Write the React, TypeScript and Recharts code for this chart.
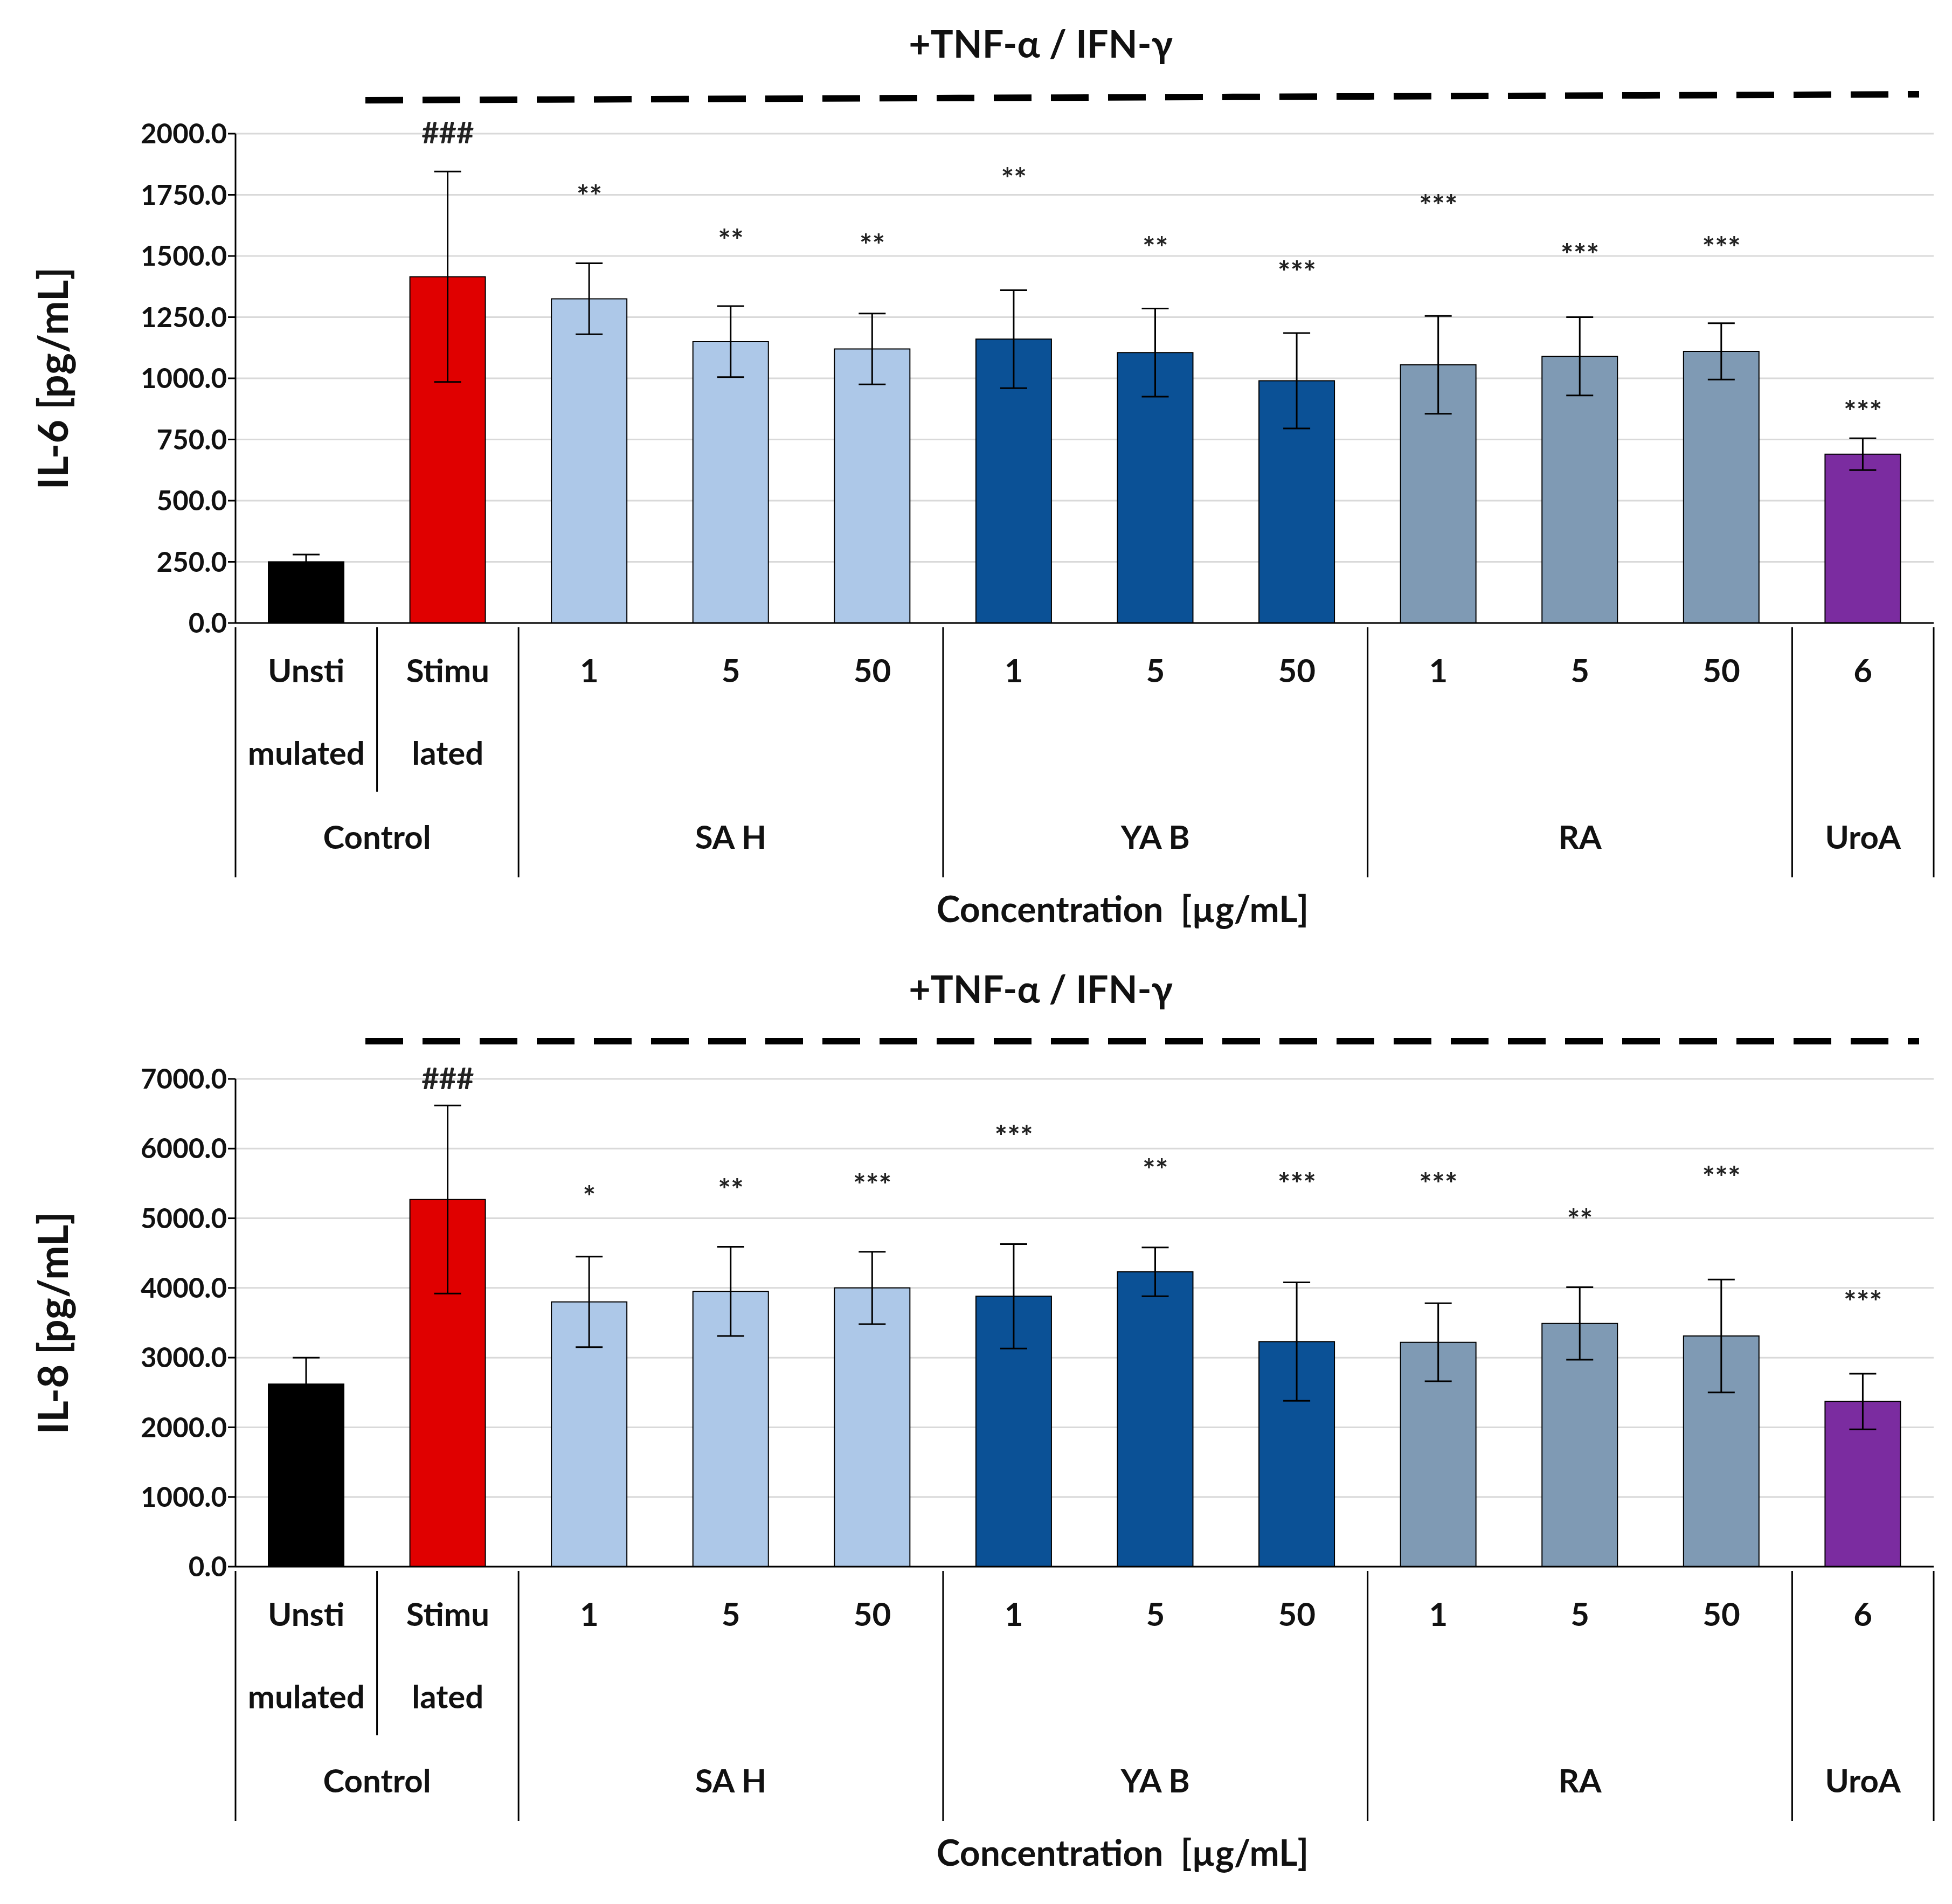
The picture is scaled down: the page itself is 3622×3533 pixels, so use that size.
import React from "react";
import {
  ComposedChart,
  Bar,
  Cell,
  ErrorBar,
  Scatter,
  XAxis,
  YAxis,
  CartesianGrid,
} from "recharts";

const concRow1 = ["Unsti", "Stimu", "1", "5", "50", "1", "5", "50", "1", "5", "50", "6"];
const concRow2 = ["mulated", "lated", "", "", "", "", "", "", "", "", "", ""];
const groups = [
  { name: "Control", start: 0, span: 2 },
  { name: "SA H", start: 2, span: 3 },
  { name: "YA B", start: 5, span: 3 },
  { name: "RA", start: 8, span: 3 },
  { name: "UroA", start: 11, span: 1 },
];
const colors = [
  "#000000", "#e00000",
  "#adc8e8", "#adc8e8", "#adc8e8",
  "#0b5196", "#0b5196", "#0b5196",
  "#7f9ab4", "#7f9ab4", "#7f9ab4",
  "#7b2ca0",
];

const il6 = [250, 1415, 1325, 1150, 1120, 1160, 1105, 990, 1055, 1090, 1110, 690];
const il6Err = [30, 430, 145, 145, 145, 200, 180, 195, 200, 160, 115, 65];
const il6Marks = ["", "###", "**", "**", "**", "**", "**", "***", "***", "***", "***", "***"];
const il6MarkPos = [0, 1960, 1700, 1520, 1500, 1770, 1490, 1390, 1660, 1460, 1490, 820];
const il6Ticks = [0, 250, 500, 750, 1000, 1250, 1500, 1750, 2000];

const il8 = [2620, 5270, 3800, 3950, 4000, 3880, 4230, 3230, 3220, 3490, 3310, 2370];
const il8Err = [380, 1350, 650, 640, 520, 750, 350, 850, 560, 520, 810, 400];
const il8Marks = ["", "###", "*", "**", "***", "***", "**", "***", "***", "**", "***", "***"];
const il8MarkPos = [0, 6850, 5150, 5250, 5320, 6020, 5540, 5340, 5340, 4820, 5430, 3640];
const il8Ticks = [0, 1000, 2000, 3000, 4000, 5000, 6000, 7000];

const FONT = "Lato, 'Open Sans', sans-serif";
const W = 3606;
const ML = 429;
const MR = 26;
const BAND = (W - ML - MR) / 12;

const CatTick = (props: any) => {
  const { x, y, payload } = props;
  const i = payload.index;
  const left = x - BAND / 2;
  const isGroupStart = groups.some((g) => g.start === i);
  const g = groups.find((gg) => gg.start === i);
  return (
    <g fontFamily={FONT} fontWeight={700} fontSize={60} fill="#111">
      <text x={x} y={y + 102} textAnchor="middle">{concRow1[i]}</text>
      {concRow2[i] && <text x={x} y={y + 255} textAnchor="middle">{concRow2[i]}</text>}
      {isGroupStart && <line x1={left} x2={left} y1={y} y2={y + 464} stroke="#000" strokeWidth={3} />}
      {i === 1 && <line x1={left} x2={left} y1={y} y2={y + 305} stroke="#000" strokeWidth={3} />}
      {i === 11 && <line x1={left + BAND} x2={left + BAND} y1={y} y2={y + 464} stroke="#000" strokeWidth={3} />}
      {g && (
        <text x={x + ((g.span - 1) / 2) * BAND} y={y + 411} textAnchor="middle">{g.name}</text>
      )}
    </g>
  );
};

const MarkShape = (props: any) => {
  const { cx, cy, payload } = props;
  return (
    <text x={cx} y={cy} textAnchor="middle" fontFamily={FONT} fontWeight={700} fontSize={56} fill="#222">
      {payload.mark}
    </text>
  );
};

interface PanelProps {
  values: number[];
  errs: number[];
  marks: string[];
  markPos: number[];
  ticks: number[];
  yLabel: string;
  height: number;
  top: number;
  bottom: number;
  dashY: [number, number];
}

const Panel: React.FC<PanelProps> = ({ values, errs, marks, markPos, ticks, yLabel, height, top, bottom, dashY }) => {
  const data = values.map((v, i) => ({
    name: String(i),
    value: v,
    err: errs[i],
    mark: marks[i],
    markPos: marks[i] ? markPos[i] : null,
  }));
  const max = ticks[ticks.length - 1];
  return (
    <div style={{ position: "relative", width: W, height }}>
      <div style={{ position: "absolute", left: 0, width: 3846, top: top - 210, textAlign: "center", fontFamily: FONT, fontWeight: 700, fontSize: 70, color: "#111" }}>
        +TNF-α / IFN-γ
      </div>
      <svg style={{ position: "absolute", left: 0, top: 0 }} width={W} height={top}>
        <line x1={670} x2={3553} y1={dashY[0]} y2={dashY[1]} stroke="#000" strokeWidth={12} strokeDasharray="70 36" />
      </svg>
      <div style={{ position: "absolute", left: 88, top: top + (height - top - bottom) / 2, transform: "translate(-50%,-50%) rotate(-90deg)", whiteSpace: "nowrap", fontFamily: FONT, fontWeight: 700, fontSize: 76, color: "#111" }}>
        {yLabel}
      </div>
      <div style={{ position: "absolute", left: 0, width: 3500, top: height - bottom + 490, textAlign: "center", fontFamily: FONT, fontWeight: 700, fontSize: 66, color: "#111" }}>
        <span style={{ marginLeft: 650 }}>Concentration&nbsp; [µg/mL]</span>
      </div>
      <ComposedChart width={W} height={height} data={data} margin={{ top, right: MR, left: 0, bottom: 0 }} barCategoryGap="0%">
        <CartesianGrid vertical={false} stroke="#d9d9d9" strokeWidth={3} />
        <XAxis dataKey="name" tick={<CatTick />} tickLine={false} axisLine={{ stroke: "#000", strokeWidth: 3 }} height={bottom} interval={0} />
        <YAxis
          domain={[0, max]}
          ticks={ticks}
          interval={0}
          tickFormatter={(v: number) => v.toFixed(1)}
          tick={{ fontFamily: FONT, fontWeight: 700, fontSize: 51, fill: "#111" }}
          tickLine={{ stroke: "#000", strokeWidth: 3 }}
          tickSize={14}
          axisLine={{ stroke: "#000", strokeWidth: 3 }}
          width={ML}
        />
        <Bar dataKey="value" barSize={140} stroke="#000" strokeWidth={2} isAnimationActive={false}>
          {data.map((d, i) => (
            <Cell key={i} fill={colors[i]} />
          ))}
          <ErrorBar dataKey="err" width={25} stroke="#000" strokeWidth={3} />
        </Bar>
        <Scatter dataKey="markPos" shape={<MarkShape />} isAnimationActive={false} />
      </ComposedChart>
    </div>
  );
};

export default function App() {
  return (
    <div style={{ width: W, background: "#fff" }}>
      <Panel values={il6} errs={il6Err} marks={il6Marks} markPos={il6MarkPos} ticks={il6Ticks}
        yLabel="IL-6 [pg/mL]" height={1752} top={240} bottom={604} dashY={[178, 167]} />
      <Panel values={il8} errs={il8Err} marks={il8Marks} markPos={il8MarkPos} ticks={il8Ticks}
        yLabel="IL-8 [pg/mL]" height={1765} top={242} bottom={618} dashY={[172, 172]} />
    </div>
  );
}
